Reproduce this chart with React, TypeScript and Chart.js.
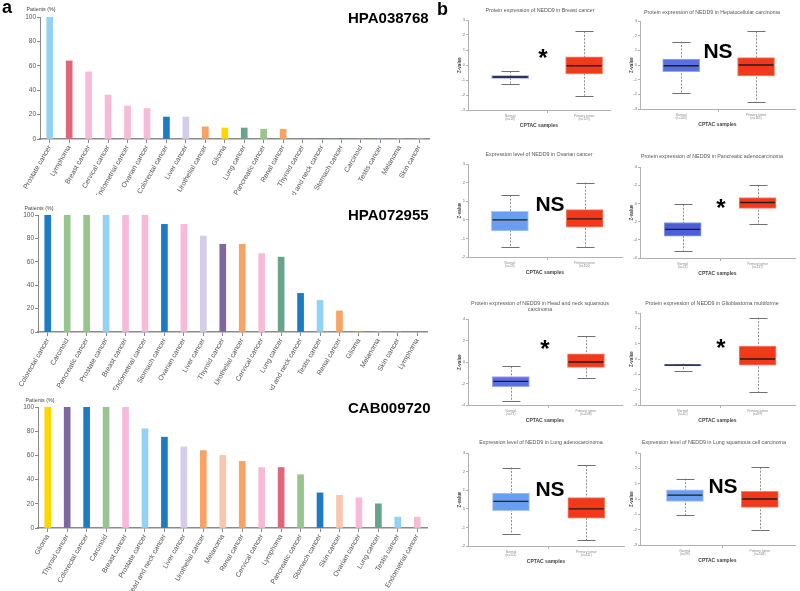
import React, { useEffect, useRef } from 'react';
import { Chart, registerables } from 'chart.js';

Chart.register(...registerables);

const SANS = "'Liberation Sans', Arial, Helvetica, sans-serif";
const NARROW = "'Liberation Sans Narrow', 'Arial Narrow', 'Liberation Sans', Arial, sans-serif";

// ---------------- Panel a data ----------------
const hpa038768Labels = ['Prostate cancer', 'Lymphoma', 'Breast cancer', 'Cervical cancer', 'Endometrial cancer', 'Ovarian cancer', 'Colorectal cancer', 'Liver cancer', 'Urothelial cancer', 'Glioma', 'Lung cancer', 'Pancreatic cancer', 'Renal cancer', 'Thyroid cancer', 'Head and neck cancer', 'Stomach cancer', 'Carcinoid', 'Testis cancer', 'Melanoma', 'Skin cancer'];
const hpa038768Values = [100, 64, 55, 36, 27, 25, 18, 18, 10, 9, 9, 8, 8, 0, 0, 0, 0, 0, 0, 0];

const hpa072955Labels = ['Colorectal cancer', 'Carcinoid', 'Pancreatic cancer', 'Prostate cancer', 'Breast cancer', 'Endometrial cancer', 'Stomach cancer', 'Ovarian cancer', 'Liver cancer', 'Thyroid cancer', 'Urothelial cancer', 'Cervical cancer', 'Lung cancer', 'Head and neck cancer', 'Testis cancer', 'Renal cancer', 'Glioma', 'Melanoma', 'Skin cancer', 'Lymphoma'];
const hpa072955Values = [100, 100, 100, 100, 100, 100, 92, 92, 82, 75, 75, 67, 64, 33, 27, 18, 0, 0, 0, 0];

const cab009720Labels = ['Glioma', 'Thyroid cancer', 'Colorectal cancer', 'Carcinoid', 'Breast cancer', 'Prostate cancer', 'Head and neck cancer', 'Liver cancer', 'Urothelial cancer', 'Melanoma', 'Renal cancer', 'Cervical cancer', 'Lymphoma', 'Pancreatic cancer', 'Stomach cancer', 'Skin cancer', 'Ovarian cancer', 'Lung cancer', 'Testis cancer', 'Endometrial cancer'];
const cab009720Values = [100, 100, 100, 100, 100, 82, 75, 67, 64, 60, 55, 50, 50, 44, 29, 27, 25, 20, 9, 9];

const cancerColors: Record<string, string> = {
  'Prostate cancer': '#92d2f6',
  'Lymphoma': '#e0677a',
  'Breast cancer': '#f7bbd8',
  'Cervical cancer': '#f7bbd8',
  'Endometrial cancer': '#f7bbd8',
  'Ovarian cancer': '#f7bbd8',
  'Colorectal cancer': '#1b7cc4',
  'Liver cancer': '#d4cce8',
  'Urothelial cancer': '#f8a263',
  'Glioma': '#fdd700',
  'Lung cancer': '#68a48b',
  'Pancreatic cancer': '#98c48d',
  'Renal cancer': '#f8a263',
  'Thyroid cancer': '#7e66a2',
  'Head and neck cancer': '#1b7cc4',
  'Stomach cancer': '#1b7cc4',
  'Carcinoid': '#98c48d',
  'Testis cancer': '#92d2f6',
  'Melanoma': '#fac7ad',
  'Skin cancer': '#fac7ad',
};

// ---------------- Panel b data: [min, q1, median, q3, max] ----------------
const breastNormal = [-1.25, -0.9, -0.8, -0.7, -0.4];
const breastTumor = [-2.05, -0.6, -0.05, 0.55, 2.25];
const liverNormal = [-1.9, -0.45, -0.05, 0.4, 1.6];
const liverTumor = [-2.5, -0.75, 0.0, 0.5, 2.3];
const ovarianNormal = [-1.45, -0.6, 0.0, 0.45, 1.33];
const ovarianTumor = [-1.45, -0.4, 0.05, 0.55, 2.0];
const pancreasNormal = [-5.2, -3.6, -2.85, -2.1, -0.1];
const pancreasTumor = [-2.3, -0.55, 0.1, 0.65, 2.0];
const headNeckNormal = [-3.6, -2.3, -1.8, -1.35, -0.4];
const headNeckTumor = [-1.5, -0.5, 0.0, 0.75, 2.4];
const gbmNormal = [-0.75, -0.45, -0.4, -0.35, -0.3];
const gbmTumor = [-2.15, -0.4, 0.0, 0.85, 2.7];
const luadNormal = [-1.33, -0.1, 0.4, 0.85, 2.22];
const luadTumor = [-1.7, -0.5, 0.0, 0.6, 2.33];
const luscNormal = [-1.03, -0.15, 0.25, 0.6, 1.33];
const luscTumor = [-2.03, -0.55, 0.0, 0.5, 2.07];

const TUMOR = '#f2391b';
const TUMOR_EDGE = '#f7836d';

type BoxSpec = {
  title: string[];
  normal: number[];
  tumor: number[];
  nLabels: [string, string];
  yMin: number; yMax: number; yStep: number;
  xMin: number; xMax: number;
  L: number; R: number; T: number; B: number;
  titleX: number; titleY: number;
  normalColor: string; normalEdge: string;
  mark: string; markX: number; markY: number;
};

const boxSpecs: BoxSpec[] = [
  { title: ['Protein expression of NEDD9 in Breast cancer'], normal: breastNormal, tumor: breastTumor, nLabels: ['(n=18)', '(n=125)'],
    yMin: -3, yMax: 3, yStep: 1, xMin: -0.57, xMax: 1.35, L: 468, R: 610, T: 20, B: 110, titleX: 540, titleY: 10,
    normalColor: '#4e62d8', normalEdge: '#8f9cee', mark: '*', markX: 543, markY: 52 },
  { title: ['Protein expression of NEDD9 in Hepatocellular carcinoma'], normal: liverNormal, tumor: liverTumor, nLabels: ['(n=165)', '(n=165)'],
    yMin: -3, yMax: 3, yStep: 1, xMin: -0.55, xMax: 1.52, L: 640, R: 795, T: 21, B: 109, titleX: 712, titleY: 12,
    normalColor: '#5a6fe0', normalEdge: '#9aa8f0', mark: 'NS', markX: 718, markY: 50 },
  { title: ['Expression level of NEDD9 in Ovarian cancer'], normal: ovarianNormal, tumor: ovarianTumor, nLabels: ['(n=25)', '(n=100)'],
    yMin: -2, yMax: 3, yStep: 1, xMin: -0.56, xMax: 1.5, L: 468, R: 622, T: 164, B: 257, titleX: 539, titleY: 154,
    normalColor: '#6a9ef0', normalEdge: '#a9c6f6', mark: 'NS', markX: 550, markY: 203 },
  { title: ['Protein expression of NEDD9 in Pancreatic adenocarcinoma'], normal: pancreasNormal, tumor: pancreasTumor, nLabels: ['(n=74)', '(n=137)'],
    yMin: -6, yMax: 4, yStep: 2, xMin: -0.57, xMax: 1.5, L: 640, R: 795, T: 167, B: 258, titleX: 712, titleY: 156,
    normalColor: '#4b60d8', normalEdge: '#8f9cee', mark: '*', markX: 721, markY: 202 },
  { title: ['Protein expression of NEDD9 in Head and neck squamous', 'carcinoma'], normal: headNeckNormal, tumor: headNeckTumor, nLabels: ['(n=71)', '(n=108)'],
    yMin: -4, yMax: 4, yStep: 2, xMin: -0.57, xMax: 1.48, L: 468, R: 622, T: 319, B: 405, titleX: 540, titleY: 303,
    normalColor: '#5b70e6', normalEdge: '#9aa8f0', mark: '*', markX: 545, markY: 343 },
  { title: ['Protein expression of NEDD9 in Glioblastoma multiforme'], normal: gbmNormal, tumor: gbmTumor, nLabels: ['(n=10)', '(n=99)'],
    yMin: -3, yMax: 3, yStep: 1, xMin: -0.57, xMax: 1.5, L: 640, R: 795, T: 313, B: 405, titleX: 712, titleY: 303,
    normalColor: '#3d50bd', normalEdge: '#8a98e6', mark: '*', markX: 721, markY: 342 },
  { title: ['Expression level of NEDD9 in Lung adenocarcinoma'], normal: luadNormal, tumor: luadTumor, nLabels: ['(n=111)', '(n=111)'],
    yMin: -2, yMax: 3, yStep: 1, xMin: -0.57, xMax: 1.5, L: 468, R: 624, T: 453, B: 546, titleX: 541, titleY: 442,
    normalColor: '#6a9ef0', normalEdge: '#a9c6f6', mark: 'NS', markX: 550, markY: 488 },
  { title: ['Expression level of NEDD9 in Lung squamous cell carcinoma'], normal: luscNormal, tumor: luscTumor, nLabels: ['(n=99)', '(n=108)'],
    yMin: -3, yMax: 3, yStep: 1, xMin: -0.6, xMax: 1.47, L: 640, R: 795, T: 453, B: 545, titleX: 714, titleY: 442,
    normalColor: '#6a9ef0', normalEdge: '#a9c6f6', mark: 'NS', markX: 723, markY: 485 },
];

// ---------------- Plugins ----------------
const boxWhiskerPlugin = {
  id: 'boxWhisker',
  beforeDatasetsDraw(chart: any) {
    const ds: any = chart.data.datasets[0];
    const stats: number[][] = ds.stats;
    if (!stats) return;
    const x = chart.scales.x, y = chart.scales.y, ctx = chart.ctx;
    ctx.save();
    stats.forEach((s, i) => {
      const cx = Math.round(x.getPixelForValue(i)) + 0.5;
      const [mn, , , , mx] = s;
      ctx.strokeStyle = '#8c8c8c';
      ctx.lineWidth = 1;
      ctx.setLineDash([2, 1.5]);
      ctx.beginPath();
      ctx.moveTo(cx, y.getPixelForValue(mx));
      ctx.lineTo(cx, y.getPixelForValue(mn));
      ctx.stroke();
      ctx.setLineDash([]);
      ctx.strokeStyle = '#707070';
      [mn, mx].forEach((v) => {
        const py = Math.round(y.getPixelForValue(v)) + 0.5;
        ctx.beginPath();
        ctx.moveTo(cx - 9, py);
        ctx.lineTo(cx + 9, py);
        ctx.stroke();
      });
    });
    ctx.restore();
  },
  afterDatasetsDraw(chart: any) {
    const ds: any = chart.data.datasets[0];
    const stats: number[][] = ds.stats;
    if (!stats) return;
    const meta = chart.getDatasetMeta(0);
    const y = chart.scales.y, ctx = chart.ctx;
    ctx.save();
    ctx.strokeStyle = '#1e1e1e';
    ctx.lineWidth = 1.3;
    stats.forEach((s, i) => {
      const el: any = meta.data[i];
      const half = el.width / 2 - 1;
      const py = y.getPixelForValue(s[2]);
      ctx.beginPath();
      ctx.moveTo(el.x - half, py);
      ctx.lineTo(el.x + half, py);
      ctx.stroke();
    });
    ctx.restore();
  },
};

// ---------------- Generic canvas ----------------
function ChartCanvas({ left, top, width, height, build }: { left: number; top: number; width: number; height: number; build: () => any }) {
  const ref = useRef<HTMLCanvasElement>(null);
  useEffect(() => {
    const chart = new Chart(ref.current as HTMLCanvasElement, build());
    return () => chart.destroy();
  }, []);
  return (
    <canvas
      ref={ref}
      width={width}
      height={height}
      style={{ position: 'absolute', left, top, width, height }}
    />
  );
}

function barConfig(labels: string[], values: number[], padTop: number, padRight: number, yWidth: number, xHeight: number) {
  return {
    type: 'bar',
    data: {
      labels,
      datasets: [{
        data: values,
        backgroundColor: labels.map((l) => cancerColors[l]),
        borderWidth: 0,
        barThickness: 6,
      }],
    },
    options: {
      animation: false,
      responsive: false,
      layout: { padding: { left: 0, top: padTop, right: padRight, bottom: 0 } },
      plugins: { legend: { display: false }, tooltip: { enabled: false }, title: { display: false } },
      scales: {
        x: {
          offset: true,
          grid: { display: true, drawOnChartArea: false, drawTicks: true, tickLength: 4, color: '#888', offset: false },
          border: { display: true, color: '#8a8a8a', width: 1.5 },
          ticks: { autoSkip: false, minRotation: 60, maxRotation: 60, padding: 1, color: '#555', font: { size: 7, family: NARROW } },
          afterFit: (s: any) => { s.height = xHeight; },
        },
        y: {
          min: 0,
          max: 100,
          grid: { display: true, drawOnChartArea: false, drawTicks: true, tickLength: 3, color: '#888' },
          border: { display: true, color: '#888', width: 1 },
          ticks: { stepSize: 20, padding: 1, color: '#555', font: { size: 6.5, family: NARROW } },
          afterFit: (s: any) => { s.width = yWidth; },
        },
      },
    },
  };
}

function boxConfig(spec: BoxSpec) {
  const stats = [spec.normal, spec.tumor];
  return {
    type: 'bar',
    plugins: [boxWhiskerPlugin],
    data: {
      datasets: [{
        stats,
        data: stats.map((s, i) => ({ x: i, y: [s[1], s[3]] })),
        backgroundColor: [spec.normalColor, TUMOR],
        borderColor: [spec.normalEdge, TUMOR_EDGE],
        borderWidth: 1,
        borderSkipped: false,
        barThickness: 37,
      }],
    },
    options: {
      animation: false,
      responsive: false,
      layout: { padding: { left: 0, top: 8, right: 6, bottom: 0 } },
      plugins: { legend: { display: false }, tooltip: { enabled: false } },
      scales: {
        x: {
          type: 'linear',
          min: spec.xMin,
          max: spec.xMax,
          offset: false,
          afterBuildTicks: (s: any) => { s.ticks = [{ value: 0 }, { value: 0.5 }, { value: 1 }]; },
          ticks: {
            autoSkip: false,
            maxRotation: 0,
            padding: 1,
            color: '#8a8a8a',
            font: { size: 3.3, family: SANS, lineHeight: 1.1 },
            callback: (v: number) => (v === 0 ? ['Normal', spec.nLabels[0]] : v === 1 ? ['Primary tumor', spec.nLabels[1]] : ''),
          },
          grid: {
            display: true,
            drawOnChartArea: false,
            drawTicks: true,
            tickLength: 3,
            offset: false,
            color: (ctx: any) => (ctx.tick && ctx.tick.value === 0.5 ? '#b0b0b0' : 'rgba(0,0,0,0)'),
          },
          border: { display: true, color: '#b0b0b0', width: 1 },
          title: { display: true, text: 'CPTAC samples', color: '#444', font: { size: 5, weight: 'bold', family: SANS }, padding: { top: 0, bottom: 3 } },
          afterFit: (s: any) => { s.height = 22; },
        },
        y: {
          min: spec.yMin,
          max: spec.yMax,
          ticks: { stepSize: spec.yStep, padding: 1, color: '#777', font: { size: 4.2, family: SANS } },
          grid: { display: true, drawOnChartArea: false, drawTicks: true, tickLength: 2, color: '#b0b0b0' },
          border: { display: true, color: '#b0b0b0', width: 1 },
          title: { display: true, text: 'Z-value', color: '#444', font: { size: 4.5, weight: 'bold', family: SANS }, padding: { top: 11, bottom: 0 } },
          afterFit: (s: any) => { s.width = 22; },
        },
      },
    },
  };
}

// ---------------- Text helpers ----------------
function CenterText({ x, y, text, size, bold, color = '#555', family = SANS }: { x: number; y: number; text: string; size: number; bold?: boolean; color?: string; family?: string }) {
  const k = size < 10 ? 4 : 1;
  return (
    <div style={{
      position: 'absolute', left: x, top: y, fontSize: size * k, lineHeight: 1, fontFamily: family,
      fontWeight: bold ? 'bold' : 'normal', color, whiteSpace: 'nowrap',
      transform: `translate(-50%, -50%) scale(${1 / k})`,
    }}>{text}</div>
  );
}

function LeftText({ x, top, text, size, color = '#000' }: { x: number; top: number; text: string; size: number; color?: string }) {
  return (
    <div style={{ position: 'absolute', left: x, top, fontSize: size, lineHeight: 1, fontFamily: SANS, fontWeight: 'bold', color, whiteSpace: 'nowrap' }}>{text}</div>
  );
}

export default function App() {
  return (
    <div style={{ position: 'absolute', left: 0, top: 0, width: 800, height: 591, overflow: 'hidden', background: '#fff' }}>
      {/* Panel a */}
      <ChartCanvas left={0} top={0} width={435} height={195} build={() => barConfig(hpa038768Labels, hpa038768Values, 17, 6, 40, 56)} />
      <ChartCanvas left={0} top={195} width={435} height={195} build={() => barConfig(hpa072955Labels, hpa072955Values, 20, 8, 38, 58)} />
      <ChartCanvas left={0} top={390} width={435} height={201} build={() => barConfig(cab009720Labels, cab009720Values, 17, 8, 38, 63)} />
      <LeftText x={2} top={-2} text="a" size={18} />
      <CenterText x={40.5} y={9} text="Patients (%)" size={5.3} color="#444" family={NARROW} />
      <CenterText x={38.5} y={207.5} text="Patients (%)" size={5.3} color="#444" family={NARROW} />
      <CenterText x={39.5} y={399.5} text="Patients (%)" size={5.3} color="#444" family={NARROW} />
      <LeftText x={348} top={10} text="HPA038768" size={15} />
      <LeftText x={348} top={207} text="HPA072955" size={15} />
      <LeftText x={348} top={400} text="CAB009720" size={15} />

      {/* Panel b */}
      <LeftText x={437} top={0} text="b" size={18} />
      {boxSpecs.map((spec, i) => (
        <React.Fragment key={i}>
          <ChartCanvas
            left={spec.L - 22}
            top={spec.T - 8}
            width={spec.R - spec.L + 28}
            height={spec.B - spec.T + 30}
            build={() => boxConfig(spec)}
          />
          {spec.title.map((line, j) => (
            <CenterText key={j} x={spec.titleX} y={spec.titleY + j * 6} text={line} size={5.3} color="#555" />
          ))}
          {spec.mark === '*'
            ? <CenterText x={spec.markX} y={spec.markY + 5.5} text="*" size={24} bold color="#000" />
            : <CenterText x={spec.markX} y={spec.markY} text="NS" size={21} bold color="#000" />}
        </React.Fragment>
      ))}
    </div>
  );
}
